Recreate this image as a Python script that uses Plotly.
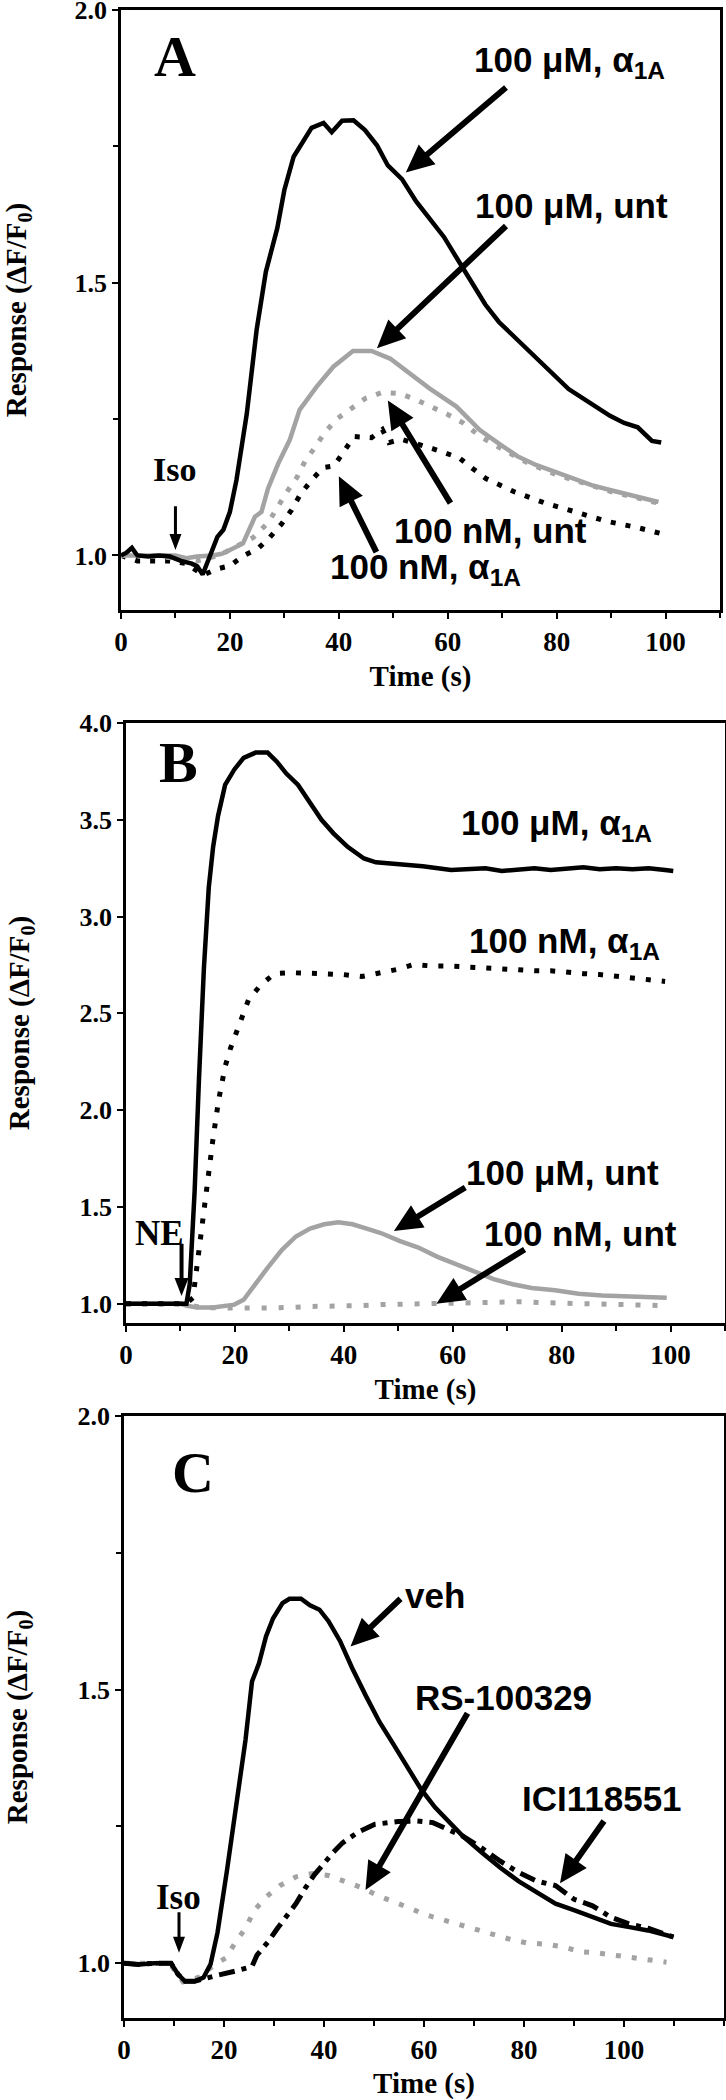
import math
import plotly.graph_objects as go

# ---------------- Panel A (Iso) ----------------
A_uM_a1A_t = [0, 1, 2, 3, 5, 7, 9, 11, 13, 14, 15, 16.3, 17.7, 18.8, 20, 21.2, 23.1, 24.9, 26.6, 28.7, 30, 31.7, 33.8, 35,
              37.2, 38.7, 40.6, 42.7, 44.8, 47, 49, 51.6, 54.2, 56.7, 59.3, 61.8, 64.3, 66.9, 69.4, 72, 74.5, 77.1,
              79.6, 82.2, 84.7, 87.3, 89.8, 92.4, 94.9, 97.5, 99.2]
A_uM_a1A_v = [1.0, 1.005, 1.014, 1.0, 0.998, 1.0, 0.998, 0.99, 0.985, 0.98, 0.965, 1.0, 1.034, 1.047, 1.08, 1.138, 1.26,
              1.413, 1.52, 1.6, 1.67, 1.731, 1.764, 1.784, 1.793, 1.776, 1.797, 1.798, 1.78, 1.752, 1.715, 1.69, 1.649,
              1.616, 1.584, 1.543, 1.502, 1.46, 1.428, 1.403, 1.379, 1.354, 1.33, 1.305, 1.289, 1.272, 1.256, 1.243,
              1.235, 1.21, 1.207]

A_uM_unt_t = [0, 2, 4, 6, 8, 10, 12, 13.9, 16.8, 18.5, 20, 22.4, 24.6, 25.8, 27, 28.9, 31, 32.8, 35.9, 39, 42.6, 46,
              49.4, 53, 56.7, 61.6, 65.9, 69.4, 72.8, 76.2, 79.6, 83, 86.4, 89.8, 93.2, 96.6, 98.7]
A_uM_unt_v = [1.0, 1.0, 1.0, 1.0, 1.0, 1.0, 0.995, 0.998, 1.0, 1.003, 1.01, 1.022, 1.071, 1.08, 1.123, 1.169, 1.212,
              1.267, 1.309, 1.346, 1.375, 1.375, 1.361, 1.334, 1.306, 1.273, 1.23, 1.205, 1.182, 1.166, 1.153, 1.141,
              1.129, 1.12, 1.112, 1.104, 1.098]

A_nM_unt_t = [0, 5, 10, 14, 18, 21, 24.3, 27, 28.7, 30.5, 32.3, 33.8, 35.6, 37.4, 39.6, 42.2, 44.9, 48, 51.1, 54.1,
              56.9, 59.9, 62.8, 66, 70, 75, 80, 85, 90, 95, 99]
A_nM_unt_v = [1.0, 1.0, 0.995, 0.99, 1.0, 1.015, 1.033, 1.06, 1.089, 1.117, 1.143, 1.173, 1.198, 1.225, 1.25, 1.27,
              1.288, 1.299, 1.297, 1.286, 1.274, 1.259, 1.243, 1.218, 1.195, 1.168, 1.148, 1.132, 1.117, 1.105, 1.095]

A_nM_a1A_t = [0, 3, 6, 9, 12, 15.1, 17.5, 20, 22.4, 25.2, 27.3, 29.5, 31.3, 33, 35, 37.1, 39.1, 40.9, 42.8, 46, 48,
              49.2, 51.5, 57.2, 59.8, 62.1, 64.5, 67, 72.4, 77.9, 83.4, 89, 94.9, 99.6]
A_nM_a1A_v = [1.0, 0.99, 0.99, 0.99, 0.985, 0.964, 0.975, 0.981, 0.999, 1.013, 1.033, 1.058, 1.083, 1.113, 1.138, 1.161,
              1.164, 1.192, 1.218, 1.216, 1.231, 1.207, 1.213, 1.196, 1.186, 1.179, 1.16, 1.141, 1.116, 1.096, 1.08,
              1.063, 1.051, 1.039]

# ---------------- Panel B (NE) ----------------
B_uM_a1A_t = [0, 2, 4, 6, 8, 10, 11.1, 11.7, 12.6, 13.4, 14.3, 15.2, 16, 16.9, 18.2, 19.9, 21.6, 23.8, 26, 27.7, 29.4,
              31.6, 33.8, 35.9, 38.1, 40.7, 43.7, 45.9, 50.2, 54.5, 59.7, 63, 66, 69, 72, 75, 78, 81, 84, 87, 90, 93,
              96, 99, 100.5]
B_uM_a1A_v = [1.0, 1.0, 1.0, 1.0, 1.0, 1.0, 1.0, 1.1, 1.58, 2.16, 2.73, 3.15, 3.36, 3.52, 3.68, 3.76, 3.82, 3.847,
              3.847, 3.8, 3.74, 3.68, 3.59, 3.5, 3.43, 3.36, 3.3, 3.28, 3.27, 3.26, 3.24, 3.245, 3.25, 3.235, 3.245,
              3.25, 3.24, 3.25, 3.255, 3.245, 3.25, 3.245, 3.25, 3.24, 3.235]

B_nM_a1A_t = [0, 4, 8, 10, 11, 12.3, 13, 14, 15, 16, 17, 18.2, 19.2, 20.3, 21.5, 22.5, 24.7, 27.3, 30, 33, 36, 40,
              43.3, 46.8, 49.8, 52.8, 56, 59, 62, 65, 68, 71.5, 75, 78, 81, 84, 87, 90, 93, 96, 99]
B_nM_a1A_v = [1.0, 1.0, 1.0, 1.0, 1.0, 1.03, 1.185, 1.44, 1.65, 1.857, 2.05, 2.225, 2.32, 2.40, 2.49, 2.57, 2.645,
              2.706, 2.71, 2.71, 2.705, 2.70, 2.69, 2.71, 2.727, 2.752, 2.745, 2.745, 2.74, 2.735, 2.727, 2.725, 2.72,
              2.72, 2.71, 2.705, 2.70, 2.69, 2.685, 2.675, 2.665]

B_uM_unt_t = [0, 5, 10, 11, 13, 16, 18, 19.9, 21.6, 23.4, 26, 28.6, 31.2, 33.8, 36.4, 39, 41.6, 44.2, 46.8, 50.2,
              53.7, 57.1, 60.6, 64.1, 67.5, 71, 74.5, 78.8, 83.1, 87.4, 91.8, 96.1, 99.3]
B_uM_unt_v = [1.0, 1.0, 1.0, 0.99, 0.98, 0.98, 0.985, 0.995, 1.02, 1.09, 1.185, 1.277, 1.347, 1.388, 1.41, 1.42,
              1.41, 1.388, 1.365, 1.324, 1.29, 1.243, 1.204, 1.162, 1.127, 1.1, 1.081, 1.069, 1.051, 1.042, 1.039,
              1.035, 1.03]

B_nM_unt_t = [0, 5, 10, 13.9, 16.7, 20, 23.4, 26.7, 30, 33.3, 36.7, 40.3, 43.5, 46.8, 50, 53, 56.5, 60, 63.2, 66.7,
              70, 73.2, 76.6, 80, 83.5, 86.6, 90, 93.5, 97, 99]
B_nM_unt_v = [1.0, 1.0, 1.0, 0.98, 0.977, 0.977, 0.977, 0.977, 0.98, 0.985, 0.985, 0.99, 0.99, 0.995, 0.997, 1.0,
              1.0, 1.005, 1.006, 1.007, 1.01, 1.01, 1.005, 1.003, 1.0, 1.0, 0.995, 0.995, 0.993, 0.99]

# ---------------- Panel C (Iso + antagonists) ----------------
C_veh_t = [0, 3, 6, 9.4, 10.8, 12.2, 14.1, 15.9, 17.3, 18.7, 20.6, 22.4, 24.3, 25.6, 27, 28.4, 29.8, 31.7, 33.1, 35.4,
           37.2, 39.1, 40.9, 43.2, 45.6, 48.3, 51.1, 53.9, 56.7, 59.4, 62.2, 65, 67.8, 71.5, 75.2, 78.9, 82.6, 86.3,
           90, 93.7, 97.4, 101.1, 104.8, 109.9]
C_veh_v = [1.0, 0.998, 1.0, 1.0, 0.98, 0.967, 0.967, 0.974, 0.998, 1.056, 1.17, 1.293, 1.408, 1.515, 1.548, 1.597,
           1.63, 1.658, 1.666, 1.666, 1.654, 1.646, 1.625, 1.589, 1.54, 1.49, 1.441, 1.4, 1.359, 1.318, 1.285, 1.257,
           1.232, 1.203, 1.175, 1.15, 1.13, 1.109, 1.097, 1.085, 1.072, 1.066, 1.06, 1.048]

C_ici_t = [0, 3, 6, 9.4, 10.8, 12.2, 14.1, 15.9, 18.7, 22.4, 25.6, 26.6, 28.9, 30.7, 34.4, 36.3, 38.1, 41.9, 43.7,
           46.9, 50.2, 54.8, 58.5, 61.8, 65, 67.8, 71.5, 75.2, 78.9, 82.6, 86.3, 90, 93.7, 97.4, 101, 104.8, 109.9]
C_ici_v = [1.0, 0.998, 1.0, 1.0, 0.98, 0.967, 0.967, 0.972, 0.978, 0.986, 0.994, 1.015, 1.04, 1.064, 1.109, 1.138,
           1.162, 1.203, 1.22, 1.24, 1.254, 1.259, 1.26, 1.257, 1.244, 1.232, 1.211, 1.187, 1.166, 1.15, 1.142, 1.117,
           1.105, 1.084, 1.072, 1.064, 1.048]

C_rs_t = [0, 3.5, 7, 9.5, 11.8, 15.2, 18, 20.4, 22.4, 24.3, 26.1, 28.4, 31.2, 34.4, 37.7, 41.1, 44.4, 47.6, 50.9,
          53.9, 57.1, 60.2, 63.6, 66.9, 70.6, 73.8, 77.5, 80.7, 84.4, 87.7, 91.4, 94.6, 98.3, 101.6, 104.8, 108.5]
C_rs_v = [1.0, 1.0, 1.0, 0.995, 0.966, 0.975, 0.997, 1.01, 1.04, 1.064, 1.097, 1.121, 1.142, 1.158, 1.164, 1.16,
          1.15, 1.138, 1.123, 1.113, 1.101, 1.089, 1.08, 1.072, 1.06, 1.053, 1.043, 1.037, 1.035, 1.03, 1.021,
          1.019, 1.015, 1.011, 1.008, 1.002]

# ---------------- styling ----------------
BLACK = "#000000"
GRAY = "#a3a3a3"
SERIF = "Liberation Serif"
SANS = "Liberation Sans"
W, H = 726, 2100

# panel frames in pixels: (left, right, top, bottom), x range, y range
PANELS = {
    "": dict(px=(121, 720, 10, 610), xr=[0, 110], yr=[0.9, 2.0]),
    "2": dict(px=(126, 725, 723, 1323), xr=[0, 110], yr=[0.9, 4.0]),
    "3": dict(px=(124, 724, 1416, 2018), xr=[0, 120], yr=[0.9, 2.0]),
}

fig = go.Figure()

def add(t, v, ax, color, dash="solid", width=4.5):
    fig.add_trace(go.Scatter(x=t, y=v, mode="lines", xaxis="x" + ax, yaxis="y" + ax,
                             line=dict(color=color, width=width, dash=dash), hoverinfo="skip"))

DOT = "5px,10px"
# Panel A
add(A_nM_a1A_t, A_nM_a1A_v, "", BLACK, DOT, 5)
add(A_nM_unt_t, A_nM_unt_v, "", GRAY, DOT, 5)
add(A_uM_unt_t, A_uM_unt_v, "", GRAY, "solid", 4.5)
add(A_uM_a1A_t, A_uM_a1A_v, "", BLACK, "solid", 4.5)
# Panel B
add(B_nM_unt_t, B_nM_unt_v, "2", GRAY, "5px,12px", 5)
add(B_uM_unt_t, B_uM_unt_v, "2", GRAY, "solid", 4.5)
add(B_nM_a1A_t, B_nM_a1A_v, "2", BLACK, "5px,11px", 5)
add(B_uM_a1A_t, B_uM_a1A_v, "2", BLACK, "solid", 4.5)
# Panel C
add(C_rs_t, C_rs_v, "3", GRAY, "5px,11px", 5)
add(C_ici_t, C_ici_v, "3", BLACK, "16px,7px,5px,7px", 5)
add(C_veh_t, C_veh_v, "3", BLACK, "solid", 4.5)

xtickfont = dict(family=SERIF, size=27, color="black", weight="bold")
ytickfont = dict(family=SERIF, size=26, color="black", weight="bold")
titlefont = dict(family=SERIF, size=29, color="black", weight="bold")

def xax(key, major, minor):
    l, r, t, b = PANELS[key]["px"]
    return dict(domain=[l / W, r / W], range=PANELS[key]["xr"], anchor="y" + key,
                tickvals=major, ticktext=[str(m) for m in major],
                ticks="outside", ticklen=6, tickwidth=2, tickcolor="black",
                ticklabeloverflow="allow",
                showline=True, linewidth=2.5, linecolor="black", mirror=True, automargin=False,
                showgrid=False, zeroline=False, tickfont=xtickfont,
                title=dict(text="Time (s)", font=titlefont, standoff=10),
                minor=dict(tickvals=minor, ticks="outside", ticklen=5, tickwidth=2, tickcolor="black",
                           showgrid=False))

def yax(key, major, minor):
    l, r, t, b = PANELS[key]["px"]
    d = dict(domain=[1 - b / H, 1 - t / H], range=PANELS[key]["yr"], anchor="x" + key,
             tickvals=major, ticktext=["%.1f" % m for m in major],
             ticks="outside", ticklen=6, tickwidth=2, tickcolor="black",
             ticklabeloverflow="allow",
             showline=True, linewidth=2.5, linecolor="black", mirror=True, automargin=False,
             showgrid=False, zeroline=False, tickfont=ytickfont,
             title=dict(text="Response (ΔF/F<sub>0</sub>)", font=titlefont, standoff=42))
    if minor:
        d["minor"] = dict(tickvals=minor, ticks="outside", ticklen=5, tickwidth=2, tickcolor="black",
                          showgrid=False)
    return d

XMAJ = [0, 20, 40, 60, 80, 100]
fig.update_layout(
    width=W, height=H, margin=dict(l=0, r=0, t=0, b=0, autoexpand=False),
    paper_bgcolor="white", plot_bgcolor="white", showlegend=False,
    xaxis=xax("", XMAJ, [10, 30, 50, 70, 90, 110]),
    yaxis=yax("", [1.0, 1.5, 2.0], [1.25, 1.75]),
    xaxis2=xax("2", XMAJ, [10, 30, 50, 70, 90, 110]),
    yaxis2=yax("2", [1.0, 1.5, 2.0, 2.5, 3.0, 3.5, 4.0], None),
    xaxis3=xax("3", XMAJ, [10, 30, 50, 70, 90, 110, 120]),
    yaxis3=yax("3", [1.0, 1.5, 2.0], [1.25, 1.75]),
)

ann = []
shapes = []

def label(ax, t, v, text, size=35, family=SANS, xanchor="center"):
    ann.append(dict(xref="x" + ax, yref="y" + ax, x=t, y=v, text=text, showarrow=False,
                    xanchor=xanchor, yanchor="middle",
                    font=dict(family=family, size=size, color="black", weight="bold")))

def arrow(ax, t0, v0, t1, v1, hl=28, hw=13, sw=3.0):
    # filled arrow polygon, drawn in pixels relative to the tip (data point t1, v1)
    l, r, top, b = PANELS[ax]["px"]
    xr, yr = PANELS[ax]["xr"], PANELS[ax]["yr"]
    sx = (r - l) / (xr[1] - xr[0])
    sy = (b - top) / (yr[1] - yr[0])
    dx, dy = (t1 - t0) * sx, (v1 - v0) * sy
    L = math.hypot(dx, dy)
    ux, uy = dx / L, dy / L
    nx, ny = -uy, ux
    bx, by = -hl * ux, -hl * uy
    tx, ty = -L * ux, -L * uy
    pts = [(0, 0), (bx + hw * nx, by + hw * ny), (bx + sw * nx, by + sw * ny),
           (tx + sw * nx, ty + sw * ny), (tx - sw * nx, ty - sw * ny),
           (bx - sw * nx, by - sw * ny), (bx - hw * nx, by - hw * ny)]
    path = "M" + " L".join("%.2f,%.2f" % p for p in pts) + " Z"
    shapes.append(dict(type="path", xref="x" + ax, yref="y" + ax, xsizemode="pixel", ysizemode="pixel",
                       xanchor=t1, yanchor=v1, path=path, fillcolor="black",
                       line=dict(width=0), layer="above"))

# Panel A annotations
label("", 9.9, 1.914, "A", size=58, family=SERIF)
label("", 64.5, 1.905, "100 μM, α<sub>1A</sub>", xanchor="left")
arrow("", 70.7, 1.858, 52.3, 1.702)
label("", 82.8, 1.641, "100 μM, unt")
arrow("", 70.7, 1.604, 47, 1.38)
label("", 67.9, 1.045, "100 nM, unt")
arrow("", 60.5, 1.096, 49, 1.284)
label("", 55.9, 0.975, "100 nM, α<sub>1A</sub>")
arrow("", 46.9, 1.006, 40, 1.145)
label("", 9.8, 1.157, "Iso", size=34, family=SERIF)
arrow("", 10, 1.09, 10, 1.01, hl=16, hw=6, sw=1.5)

# Panel B annotations
label("2", 9.6, 3.797, "B", size=58, family=SERIF)
label("2", 79.0, 3.475, "100 μM, α<sub>1A</sub>")
label("2", 80.6, 2.865, "100 nM, α<sub>1A</sub>")
label("2", 80.1, 1.68, "100 μM, unt")
arrow("2", 62.3, 1.6, 49.2, 1.375)
label("2", 83.5, 1.36, "100 nM, unt")
arrow("2", 73.2, 1.28, 57, 1.0)
label("2", 6.2, 1.36, "NE", size=35, family=SERIF)
arrow("2", 10.2, 1.31, 10.2, 1.04, hl=18, hw=7, sw=2)

# Panel C annotations
label("3", 13.8, 1.896, "C", size=58, family=SERIF)
label("3", 62.2, 1.672, "veh")
arrow("3", 55.3, 1.666, 45.3, 1.579)
label("3", 75.9, 1.486, "RS-100329")
arrow("3", 68.7, 1.457, 48.3, 1.134)
label("3", 95.5, 1.302, "ICI118551")
arrow("3", 96, 1.26, 87.2, 1.146)
label("3", 10.8, 1.121, "Iso", size=35, family=SERIF)
arrow("3", 11, 1.093, 11, 1.019, hl=16, hw=6, sw=1.5)

fig.update_layout(annotations=ann, shapes=shapes)
fig.write_html("out.html", config={"displayModeBar": False},
               post_script="document.body.style.margin='0px';")
